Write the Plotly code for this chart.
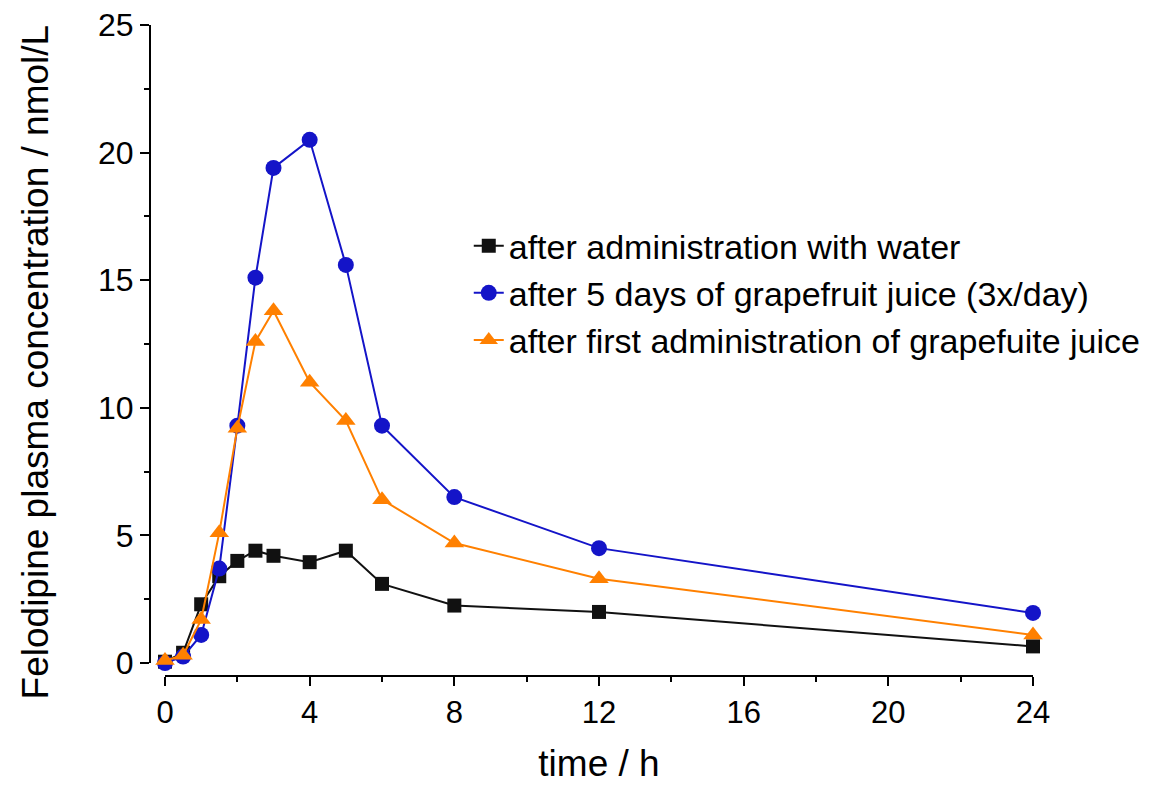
import plotly.graph_objects as go

time_h = [0, 0.5, 1, 1.5, 2, 2.5, 3, 4, 5, 6, 8, 12, 24]
water = [0.05, 0.4, 2.3, 3.4, 4.0, 4.4, 4.2, 3.95, 4.4, 3.1, 2.25, 2.0, 0.65]
gj_5days = [0.0, 0.25, 1.1, 3.7, 9.3, 15.1, 19.4, 20.5, 15.6, 9.3, 6.5, 4.5, 1.96]
gj_first = [0.1, 0.3, 1.7, 5.1, 9.2, 12.6, 13.8, 11.0, 9.5, 6.4, 4.7, 3.3, 1.1]

names = ["after administration with water",
         "after 5 days of grapefruit juice (3x/day)",
         "after first administration of grapefuite juice"]
colors = ["#111111", "#1414c8", "#ff8000"]
symbols = ["square", "circle", "triangle-up"]
sizes = [14, 16, 17]
series = [water, gj_5days, gj_first]

fig = go.Figure()
for s, n, c, sym, sz in zip(series, names, colors, symbols, sizes):
    fig.add_trace(go.Scatter(
        x=time_h, y=s, name=n, mode="lines+markers",
        line=dict(color=c, width=2),
        marker=dict(symbol=sym, size=sz, color=c),
        cliponaxis=False,
    ))

font_family = "Liberation Sans, Arial, sans-serif"
fig.update_layout(
    width=1154, height=785,
    margin=dict(l=142, r=129, t=17, b=117, autoexpand=False),
    plot_bgcolor="white", paper_bgcolor="white",
    font=dict(family=font_family, color="black"),
    showlegend=True,
    legend=dict(x=0.361, y=0.705, xanchor="left", yanchor="top",
                font=dict(size=34, family=font_family),
                bgcolor="rgba(0,0,0,0)", tracegroupgap=0),
    xaxis=dict(
        domain=[0.017, 1], range=[0, 24], anchor="free", position=0,
        automargin=False, ticklabeloverflow="allow",
        tickmode="array", tickvals=[0, 4, 8, 12, 16, 20, 24],
        ticks="outside", ticklen=9, tickwidth=2, tickcolor="black",
        minor=dict(ticks="outside", ticklen=5, tickwidth=2, dtick=2, tickcolor="black"),
        showline=True, linecolor="black", linewidth=2,
        showgrid=False, zeroline=False,
        tickfont=dict(size=31),
        title=dict(text="time / h", font=dict(size=37), standoff=20),
    ),
    yaxis=dict(
        domain=[0.02, 1], range=[0, 25], anchor="free", position=0,
        automargin=False, ticklabeloverflow="allow",
        tickmode="array", tickvals=[0, 5, 10, 15, 20, 25],
        ticks="outside", ticklen=9, tickwidth=2, tickcolor="black",
        minor=dict(ticks="outside", ticklen=5, tickwidth=2, dtick=2.5, tickcolor="black"),
        showline=True, linecolor="black", linewidth=2,
        showgrid=False, zeroline=False,
        tickfont=dict(size=32),
    ),
    annotations=[dict(
        text="Felodipine plasma concentration / nmol/L",
        xref="paper", yref="paper", x=-0.130, y=0.482,
        xanchor="center", yanchor="middle", textangle=-90,
        showarrow=False, font=dict(size=37, family=font_family),
    )],
)

fig.write_html("out.html")
